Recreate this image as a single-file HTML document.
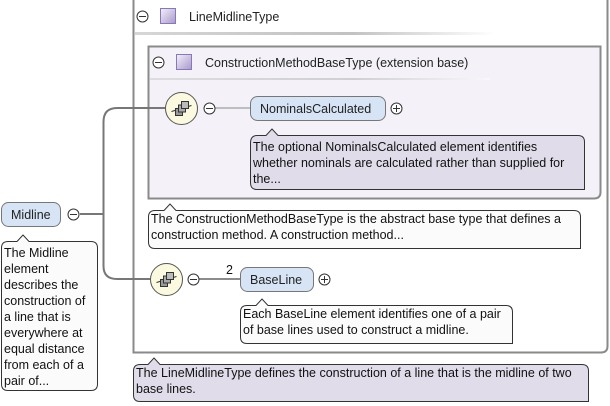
<!DOCTYPE html>
<html><head><meta charset="utf-8"><style>
html,body{margin:0;padding:0;background:#fff;}
svg{display:block;font-family:"Liberation Sans",Arial,sans-serif;font-size:12.5px;}
</style></head><body>
<svg width="610" height="406" viewBox="0 0 610 406" xmlns="http://www.w3.org/2000/svg">
<defs>
<linearGradient id="sep" x1="0" x2="1"><stop offset="0" stop-color="#bbb"/><stop offset="0.6" stop-color="#999"/><stop offset="1" stop-color="#fff"/></linearGradient>
<linearGradient id="sq" x1="0" y1="0" x2="1" y2="1"><stop offset="0" stop-color="#f4f0fa"/><stop offset="1" stop-color="#a898cc"/></linearGradient>
</defs>
<!-- outer box -->
<path d="M133.5 -2 V352.5 H601 Q607.5 352.5 607.5 346 V-2" fill="#fff" stroke="#8a8a8a" stroke-width="2"/>
<circle cx="142.5" cy="16.5" r="5.5" fill="#fff" stroke="#333"/><line x1="139" y1="16.5" x2="146" y2="16.5" stroke="#333"/>
<rect x="160.5" y="8.5" width="15" height="15" fill="url(#sq)" stroke="#8878b8"/>
<text x="189" y="21" fill="#222">LineMidlineType</text>
<rect x="135" y="32" width="360" height="3" fill="url(#sep)" opacity="0.6"/>
<!-- inner box -->
<path d="M148.5 46.5 H600.5 V192 Q600.5 198.5 594 198.5 H148.5 Z" fill="#f4f2f8" stroke="#8a8a8a" stroke-width="2"/>
<circle cx="158.5" cy="62.5" r="5.5" fill="#fff" stroke="#333"/><line x1="155" y1="62.5" x2="162" y2="62.5" stroke="#333"/>
<rect x="176.5" y="54.5" width="15" height="15" fill="url(#sq)" stroke="#8878b8"/>
<text x="205" y="67" fill="#222">ConstructionMethodBaseType (extension base)</text>
<rect x="150" y="78" width="340" height="2" fill="url(#sep)" opacity="0.4"/>
<!-- connectors -->
<path d="M80 214 H103.5 M103.5 214 V122 Q103.5 108 117 108 H165 M103.5 214 V266 Q103.5 279 117 279 H150" fill="none" stroke="#777" stroke-width="2"/>
<line x1="215" y1="108" x2="250" y2="108" stroke="#888"/>
<line x1="199" y1="279" x2="240" y2="279" stroke="#666" stroke-width="1.5"/>
<!-- sequence 1 -->
<circle cx="181.5" cy="108.5" r="16" fill="#fbfae0" stroke="#555"/>
<g transform="translate(181.5,108.5)"><line x1="-10" y1="3" x2="10" y2="-3" stroke="#333"/><rect x="-6" y="0" width="7" height="7" fill="#999" stroke="#333"/><rect x="-3" y="-3.5" width="7" height="7" fill="#aaa" stroke="#333"/><rect x="0" y="-7" width="7" height="7" fill="#bbb" stroke="#333"/></g>
<circle cx="209.5" cy="108.5" r="5.5" fill="#fff" stroke="#333"/><line x1="206" y1="108.5" x2="213" y2="108.5" stroke="#333"/>
<rect x="250.5" y="96.5" width="135" height="24" rx="7" fill="#d6e4f6" stroke="#777"/>
<text x="260" y="113" fill="#222">NominalsCalculated</text>
<circle cx="396.5" cy="108.5" r="5.5" fill="#fff" stroke="#333"/><line x1="393" y1="108.5" x2="400" y2="108.5" stroke="#333"/><line x1="396.5" y1="105" x2="396.5" y2="112" stroke="#333"/>
<path d="M250.5 143 Q250.5 135.5 257 135.5 H266 L272 129 L278 135.5 H578 Q584.5 135.5 584.5 142 V189.5 H257 Q250.5 189.5 250.5 183 Z" fill="#e0dcea" stroke="#333"/>
<text fill="#111"><tspan x="253" y="151">The optional NominalsCalculated element identifies</tspan><tspan x="253" y="167">whether nominals are calculated rather than supplied for</tspan><tspan x="253" y="183">the...</tspan></text>
<!-- construction annotation -->
<path d="M148.5 217 Q148.5 210.5 155 210.5 H164 L170 204 L176 210.5 H574 Q580.5 210.5 580.5 217 V248.5 H155 Q148.5 248.5 148.5 242 Z" fill="#fbfbfb" stroke="#333"/>
<text fill="#111"><tspan x="151" y="223">The ConstructionMethodBaseType is the abstract base type that defines a</tspan><tspan x="151" y="239">construction method. A construction method...</tspan></text>
<!-- sequence 2 -->
<circle cx="166.5" cy="279.5" r="16" fill="#fbfae0" stroke="#555"/>
<g transform="translate(166.5,279.5)"><line x1="-10" y1="3" x2="10" y2="-3" stroke="#333"/><rect x="-6" y="0" width="7" height="7" fill="#999" stroke="#333"/><rect x="-3" y="-3.5" width="7" height="7" fill="#aaa" stroke="#333"/><rect x="0" y="-7" width="7" height="7" fill="#bbb" stroke="#333"/></g>
<circle cx="193.5" cy="279.5" r="5.5" fill="#fff" stroke="#333"/><line x1="190" y1="279.5" x2="197" y2="279.5" stroke="#333"/>
<text x="226" y="274" fill="#111">2</text>
<rect x="240.5" y="267.5" width="73" height="24" rx="7" fill="#d6e4f6" stroke="#777"/>
<text x="250" y="284" fill="#222">BaseLine</text>
<circle cx="324.5" cy="279.5" r="5.5" fill="#fff" stroke="#333"/><line x1="321" y1="279.5" x2="328" y2="279.5" stroke="#333"/><line x1="324.5" y1="276" x2="324.5" y2="283" stroke="#333"/>
<path d="M240.5 312 Q240.5 305.5 247 305.5 H256 L262 299 L268 305.5 H506 Q512.5 305.5 512.5 312 V343.5 H247 Q240.5 343.5 240.5 337 Z" fill="#fbfbfb" stroke="#333"/>
<text fill="#111"><tspan x="243" y="318">Each BaseLine element identifies one of a pair</tspan><tspan x="243" y="334">of base lines used to construct a midline.</tspan></text>
<!-- Midline -->
<rect x="1.5" y="202.5" width="59" height="24" rx="7" fill="#d6e4f6" stroke="#777"/>
<text x="11" y="219" fill="#222">Midline</text>
<circle cx="73.5" cy="214.5" r="5.5" fill="#fff" stroke="#333"/><line x1="70" y1="214.5" x2="77" y2="214.5" stroke="#333"/>
<path d="M1.5 248 Q1.5 241.5 8 241.5 H17 L23 235 L29 241.5 H91 Q97.5 241.5 97.5 248 V384 Q97.5 390.5 91 390.5 H8 Q1.5 390.5 1.5 384 Z" fill="#fbfbfb" stroke="#333"/>
<text fill="#111"><tspan x="4" y="257">The Midline</tspan><tspan x="4" y="273">element</tspan><tspan x="4" y="289">describes the</tspan><tspan x="4" y="305">construction of</tspan><tspan x="4" y="321">a line that is</tspan><tspan x="4" y="337">everywhere at</tspan><tspan x="4" y="353">equal distance</tspan><tspan x="4" y="369">from each of a</tspan><tspan x="4" y="385">pair of...</tspan></text>
<!-- bottom annotation -->
<path d="M133.5 371 Q133.5 364.5 140 364.5 H148 L154 358 L160 364.5 H582 Q588.5 364.5 588.5 371 V401.5 H140 Q133.5 401.5 133.5 395 Z" fill="#e0dcea" stroke="#333"/>
<text fill="#111"><tspan x="136" y="377">The LineMidlineType defines the construction of a line that is the midline of two</tspan><tspan x="136" y="393">base lines.</tspan></text>
</svg>
</body></html>
